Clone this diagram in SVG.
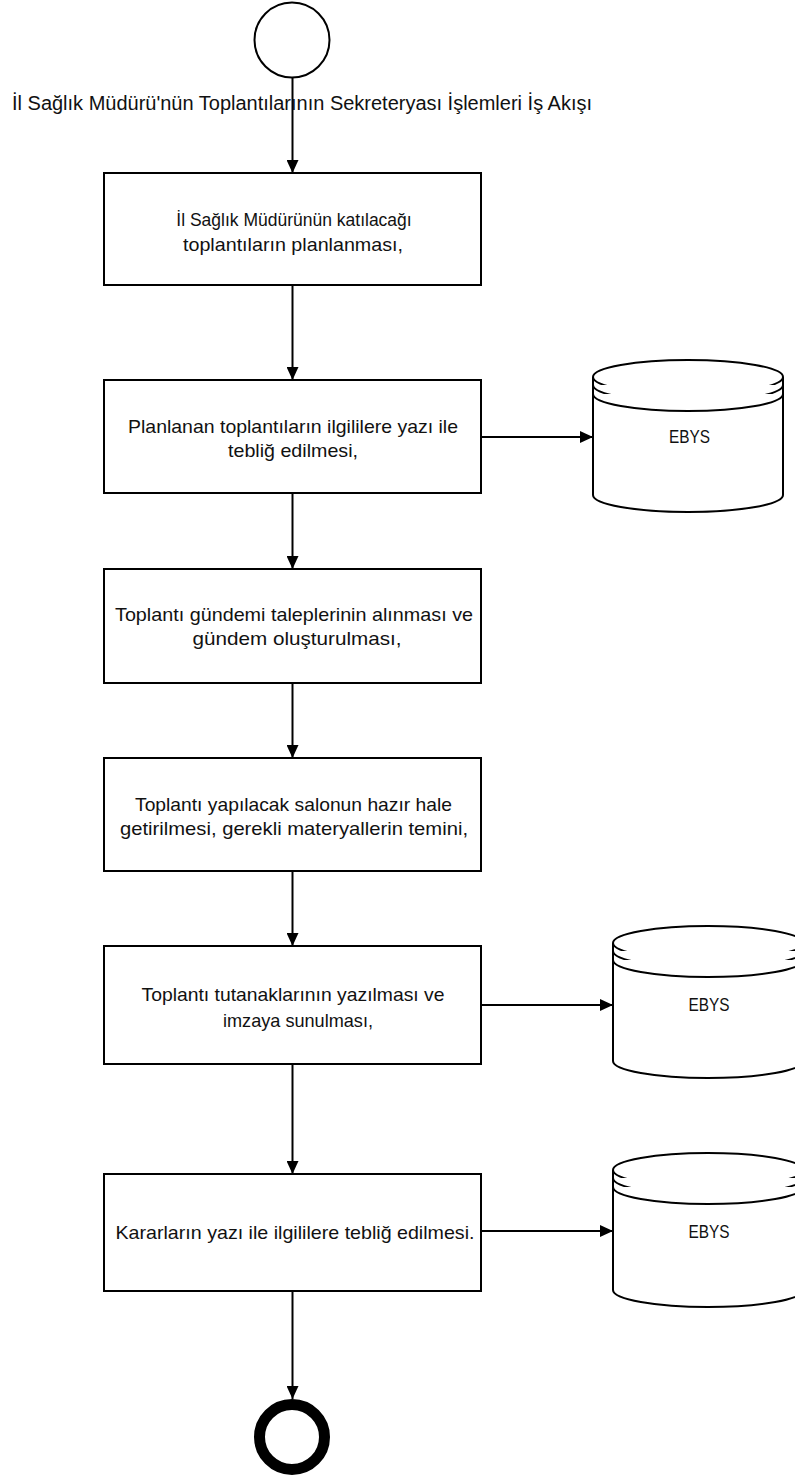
<svg xmlns="http://www.w3.org/2000/svg" width="795" height="1476" viewBox="0 0 795 1476">
  <style>
    .bg { fill: #ffffff; }
    .box { fill: #ffffff; stroke: #000000; stroke-width: 2; }
    .cyl { fill: #ffffff; stroke: #000000; stroke-width: 2; }
    .ring { fill: #ffffff; stroke: #000000; stroke-width: 2; }
    .edge { fill: none; stroke: #000000; stroke-width: 2; }
    .lbl { font-family: "Liberation Sans", "DejaVu Sans", sans-serif; font-size: 18.5px; fill: #111111; text-anchor: middle; }
    .title { font-family: "Liberation Sans", "DejaVu Sans", sans-serif; font-size: 19.5px; fill: #111111; }
  </style>
  <defs>
    <marker id="arrow" viewBox="0 0 13 12" refX="13" refY="6" markerWidth="13" markerHeight="12" markerUnits="userSpaceOnUse" orient="auto">
      <path d="M0,0 L13,6 L0,12 z" fill="#000000"/>
    </marker>
  </defs>

  <rect class="bg" x="0" y="0" width="795" height="1476"/>

  <!-- connectors -->
  <g id="connectors">
    <line class="edge" x1="292.5" y1="78" x2="292.5" y2="173" marker-end="url(#arrow)"/>
    <line class="edge" x1="292.5" y1="286" x2="292.5" y2="380" marker-end="url(#arrow)"/>
    <line class="edge" x1="292.5" y1="494" x2="292.5" y2="569" marker-end="url(#arrow)"/>
    <line class="edge" x1="292.5" y1="684" x2="292.5" y2="758" marker-end="url(#arrow)"/>
    <line class="edge" x1="292.5" y1="872" x2="292.5" y2="946" marker-end="url(#arrow)"/>
    <line class="edge" x1="292.5" y1="1065" x2="292.5" y2="1174" marker-end="url(#arrow)"/>
    <line class="edge" x1="292.5" y1="1292" x2="292.5" y2="1399" marker-end="url(#arrow)"/>
    <line class="edge" x1="481" y1="437" x2="593" y2="437" marker-end="url(#arrow)"/>
    <line class="edge" x1="481" y1="1005" x2="613" y2="1005" marker-end="url(#arrow)"/>
    <line class="edge" x1="481" y1="1231" x2="613" y2="1231" marker-end="url(#arrow)"/>
  </g>

  <!-- start -->
  <g id="start">
    <circle class="ring" cx="292" cy="40" r="37.5"/>
  </g>

  <g id="title">
    <text class="title" x="12" y="110" textLength="580" lengthAdjust="spacingAndGlyphs">İl Sağlık Müdürü'nün Toplantılarının Sekreteryası  İşlemleri İş Akışı</text>
  </g>

  <g id="step1">
    <rect class="box" x="104" y="173" width="377" height="112"/>
    <text class="lbl" x="294" y="226" style="font-size:17.5px">İl Sağlık Müdürünün katılacağı</text>
    <text class="lbl" x="293" y="251" textLength="220" lengthAdjust="spacingAndGlyphs">toplantıların planlanması,</text>
  </g>

  <g id="step2">
    <rect class="box" x="104" y="380" width="377" height="113"/>
    <text class="lbl" x="293" y="433" textLength="330" lengthAdjust="spacingAndGlyphs">Planlanan toplantıların ilgililere yazı ile</text>
    <text class="lbl" x="293" y="457" textLength="130" lengthAdjust="spacingAndGlyphs">tebliğ edilmesi,</text>
  </g>

  <g id="step3">
    <rect class="box" x="104" y="569" width="377" height="114"/>
    <text class="lbl" x="294" y="621" textLength="358" lengthAdjust="spacingAndGlyphs">Toplantı gündemi taleplerinin alınması ve</text>
    <text class="lbl" x="297" y="645" textLength="209" lengthAdjust="spacingAndGlyphs">gündem oluşturulması,</text>
  </g>

  <g id="step4">
    <rect class="box" x="104" y="758" width="377" height="113"/>
    <text class="lbl" x="293.5" y="811" textLength="317" lengthAdjust="spacingAndGlyphs">Toplantı yapılacak salonun hazır hale</text>
    <text class="lbl" x="294" y="835" textLength="348" lengthAdjust="spacingAndGlyphs">getirilmesi, gerekli materyallerin temini,</text>
  </g>

  <g id="step5">
    <rect class="box" x="104" y="946" width="377" height="118"/>
    <text class="lbl" x="293" y="1001" textLength="303" lengthAdjust="spacingAndGlyphs">Toplantı tutanaklarının yazılması ve</text>
    <text class="lbl" x="298" y="1027" textLength="150" lengthAdjust="spacingAndGlyphs">imzaya sunulması,</text>
  </g>

  <g id="step6">
    <rect class="box" x="104" y="1174" width="377" height="117"/>
    <text class="lbl" x="295" y="1239" textLength="359" lengthAdjust="spacingAndGlyphs">Kararların yazı ile ilgililere tebliğ edilmesi.</text>
  </g>

  <!-- EBYS stores: top cap with two rim lines, body, bottom arc -->
  <g id="ebys1">
    <path class="cyl" d="M593,377 L593,495 A95,17 0 0 0 783,495 L783,377 A95,17 0 0 0 593,377 Z"/>
    <path class="cyl" d="M593,377 A95,17 0 0 0 783,377" fill="none"/>
    <path class="cyl" d="M593,385 A95,17 0 0 0 783,385" fill="none"/>
    <path class="cyl" d="M593,394 A95,17 0 0 0 783,394" fill="none"/>
    <text class="lbl" x="689.5" y="443" textLength="41" lengthAdjust="spacingAndGlyphs">EBYS</text>
  </g>

  <g id="ebys2">
    <path class="cyl" d="M613,943 L613,1061 A95,17 0 0 0 803,1061 L803,943 A95,17 0 0 0 613,943 Z"/>
    <path class="cyl" d="M613,943 A95,17 0 0 0 803,943" fill="none"/>
    <path class="cyl" d="M613,951 A95,17 0 0 0 803,951" fill="none"/>
    <path class="cyl" d="M613,960 A95,17 0 0 0 803,960" fill="none"/>
    <text class="lbl" x="709" y="1011" textLength="41" lengthAdjust="spacingAndGlyphs">EBYS</text>
  </g>

  <g id="ebys3">
    <path class="cyl" d="M613,1170 L613,1290 A95,17 0 0 0 803,1290 L803,1170 A95,17 0 0 0 613,1170 Z"/>
    <path class="cyl" d="M613,1170 A95,17 0 0 0 803,1170" fill="none"/>
    <path class="cyl" d="M613,1178 A95,17 0 0 0 803,1178" fill="none"/>
    <path class="cyl" d="M613,1187 A95,17 0 0 0 803,1187" fill="none"/>
    <text class="lbl" x="709" y="1238" textLength="41" lengthAdjust="spacingAndGlyphs">EBYS</text>
  </g>

  <!-- end -->
  <g id="end">
    <circle cx="292" cy="1437" r="32.5" fill="none" stroke="#000000" stroke-width="11"/>
  </g>
</svg>
